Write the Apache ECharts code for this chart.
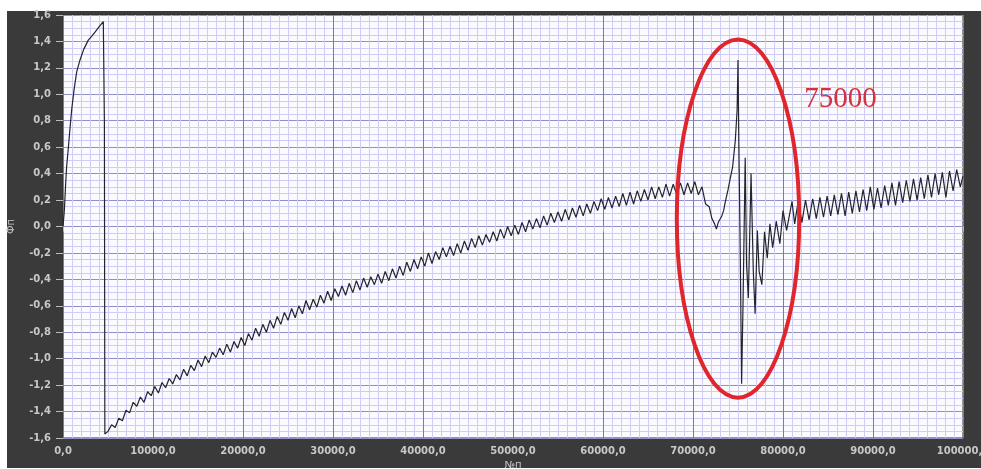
<!DOCTYPE html>
<html><head><meta charset="utf-8">
<script src="https://cdn.jsdelivr.net/npm/echarts@6/dist/echarts.min.js"></script>
<style>
html,body{margin:0;padding:0;background:#fff;}
#panel{position:absolute;left:7px;top:11px;width:974px;height:457px;background:#3a3a3a;}
#chart{position:absolute;left:0;top:0;width:981px;height:469px;}
</style></head><body>
<div id="panel"></div><div id="chart"></div>
<script>
// ---- data (x = point number, y = value) ----
const riseSegment = [
  [0,0.00],[150,0.12],[300,0.33],[400,0.45],[600,0.60],[800,0.76],[960,0.88],[1220,1.03],
  [1520,1.17],[1890,1.26],[2300,1.34],[2810,1.41],[3200,1.44],[3560,1.47],[4000,1.51],
  [4480,1.55],[4560,1.56],[4600,0.78],[4650,-1.57]
];
const trendSegment = [
  [5000,-1.55],[5400,-1.50],[5800,-1.52],[6200,-1.45],[6600,-1.47],[7000,-1.39],[7400,-1.41],
  [7800,-1.33],[8200,-1.36],[8600,-1.29],[9000,-1.33],[9400,-1.25],[9800,-1.28],[10200,-1.21],
  [10600,-1.26],[11000,-1.18],[11400,-1.22],[11800,-1.15],[12200,-1.19],[12600,-1.12],[13000,-1.16],
  [13400,-1.08],[13800,-1.13],[14200,-1.05],[14600,-1.09],[15000,-1.01],[15400,-1.06],[15800,-0.98],
  [16200,-1.03],[16600,-0.95],[17000,-0.99],[17400,-0.92],[17800,-0.97],[18200,-0.89],[18600,-0.95],
  [19000,-0.87],[19400,-0.92],[19800,-0.84],[20200,-0.90],[20600,-0.81],[21000,-0.86],[21400,-0.77],
  [21800,-0.83],[22200,-0.74],[22600,-0.80],[23000,-0.71],[23400,-0.77],[23800,-0.68],[24200,-0.74],
  [24600,-0.65],[25000,-0.71],[25400,-0.62],[25800,-0.69],[26200,-0.60],[26600,-0.66],[27000,-0.56],
  [27400,-0.63],[27800,-0.55],[28200,-0.61],[28600,-0.52],[29000,-0.58],[29400,-0.49],[29800,-0.56],
  [30200,-0.47],[30600,-0.53],[31000,-0.45],[31400,-0.52],[31800,-0.43],[32200,-0.50],[32600,-0.41],
  [33000,-0.48],[33400,-0.39],[33800,-0.46],[34200,-0.38],[34600,-0.44],[35000,-0.36],[35400,-0.43],
  [35800,-0.34],[36200,-0.41],[36600,-0.32],[37000,-0.39],[37400,-0.30],[37800,-0.37],[38200,-0.27],
  [38600,-0.34],[39000,-0.25],[39400,-0.32],[39800,-0.23],[40200,-0.30],[40600,-0.20],[41000,-0.28],
  [41400,-0.19],[41800,-0.25],[42200,-0.16],[42600,-0.23],[43000,-0.15],[43400,-0.22],[43800,-0.13],
  [44200,-0.20],[44600,-0.11],[45000,-0.18],[45400,-0.09],[45800,-0.16],[46200,-0.07],[46600,-0.14],
  [47000,-0.06],[47400,-0.12],[47800,-0.04],[48200,-0.11],[48600,-0.02],[49000,-0.09],[49400,0.00],
  [49800,-0.07],[50200,0.01],[50600,-0.06],[51000,0.03],[51400,-0.04],[51800,0.05],[52200,-0.02],
  [52600,0.06],[53000,-0.01],[53400,0.08],[53800,0.01],[54200,0.10],[54600,0.03],[55000,0.11],
  [55400,0.04],[55800,0.13],[56200,0.05],[56600,0.14],[57000,0.07],[57400,0.16],[57800,0.08],
  [58200,0.17],[58600,0.10],[59000,0.19],[59400,0.12],[59800,0.21],[60200,0.13],[60600,0.22],
  [61000,0.14],[61400,0.23],[61800,0.15],[62200,0.25],[62600,0.16],[63000,0.26],[63400,0.17],
  [63800,0.27],[64200,0.19],[64600,0.28],[65000,0.20],[65400,0.30],[65800,0.21],[66200,0.30],
  [66600,0.22],[67000,0.32],[67400,0.23],[67800,0.32],[68200,0.24],[68600,0.33],[69000,0.24],
  [69400,0.33],[69800,0.25],[70200,0.34],[70600,0.24]
];
const eventSegment = [
  [71000,0.30],[71400,0.17],[71800,0.15],[72100,0.06],[72400,0.02],[72600,-0.02],[72800,0.03],
  [73000,0.04],[73200,0.08],[73400,0.12],[73600,0.19],[73900,0.28],[74100,0.35],[74400,0.45],
  [74700,0.65],[74900,0.88],[75000,1.26],[75100,0.60],[75250,-0.20],[75400,-1.19],[75550,-0.62],
  [75800,0.52],[75950,-0.29],[76150,-0.54],[76450,0.40],[76700,-0.34],[76900,-0.66],[77150,-0.03],
  [77350,-0.34],[77650,-0.44],[77950,-0.04],[78250,-0.24],[78550,0.02],[78850,-0.16],[79250,0.04],
  [79650,-0.13],[80000,0.12],[80400,-0.03],[81000,0.19],[81300,0.02],[81700,0.20]
];
const tailSegment = [
  [82100,0.03],[82500,0.20],[82900,0.05],[83300,0.21],[83700,0.06],[84100,0.22],[84500,0.07],
  [84900,0.23],[85300,0.08],[85700,0.24],[86100,0.09],[86500,0.25],[86900,0.08],[87300,0.26],
  [87700,0.10],[88100,0.27],[88500,0.11],[88900,0.28],[89300,0.12],[89700,0.30],[90100,0.13],
  [90500,0.29],[90900,0.14],[91300,0.31],[91700,0.16],[92100,0.33],[92500,0.16],[92900,0.34],
  [93300,0.18],[93700,0.35],[94100,0.19],[94500,0.36],[94900,0.20],[95300,0.37],[95700,0.21],
  [96100,0.39],[96500,0.22],[96900,0.40],[97300,0.24],[97700,0.41],[98100,0.22],[98500,0.42],
  [98900,0.27],[99300,0.43],[99700,0.30],[100000,0.38]
];
// axis ranges / ticks
const xRange = [0, 100000], xStep = 10000;
const yRange = [-1.6, 1.6], yStep = 0.2;
const xName = '№п', yName = 'Фп';
// annotation (data units)
const markerCenter = [75000, 0.06];
const markerRadii = [6800, 1.355];
const markerText = '75000';
const markerTextAt = [86400, 0.96];

const series = riseSegment.concat(trendSegment, eventSegment, tailSegment);
const fmt = v => v.toFixed(1).replace('.', ',');

const chart = echarts.init(document.getElementById('chart'), null, {renderer: 'canvas'});
chart.setOption({
  animation: false,
  grid: {left: 63, right: 18, top: 15, bottom: 31, show: true, containLabel: false,
         outerBoundsMode: 'none',
         backgroundColor: '#fbfbff', borderColor: '#2e2e2e', borderWidth: 1},
  xAxis: {
    type: 'value', min: xRange[0], max: xRange[1], interval: xStep,
    name: xName, nameLocation: 'middle', nameGap: 21,
    nameTextStyle: {color: '#c8c8c8', fontSize: 10, fontFamily: 'DejaVu Sans'},
    axisLine: {show: false},
    axisTick: {show: true, length: 5, lineStyle: {color: '#bdbdbd'}},
    axisLabel: {formatter: fmt, color: '#c8c8c8', fontSize: 10, fontWeight: 'bold',
                fontFamily: 'DejaVu Sans', margin: 8, hideOverlap: false},
    splitLine: {show: true, lineStyle: {color: '#7272e6', width: 1}},
    minorTick: {show: false, splitNumber: 10},
    minorSplitLine: {show: true, lineStyle: {color: '#cdcdf5', width: 1}}
  },
  yAxis: {
    type: 'value', min: yRange[0], max: yRange[1], interval: yStep,
    name: yName, nameLocation: 'middle', nameGap: 47, nameRotate: 90,
    nameTextStyle: {color: '#c8c8c8', fontSize: 10, fontFamily: 'DejaVu Sans'},
    axisLine: {show: false},
    axisTick: {show: true, length: 7, lineStyle: {color: '#bdbdbd'}},
    axisLabel: {formatter: fmt, color: '#c8c8c8', fontSize: 10, fontWeight: 'bold',
                fontFamily: 'DejaVu Sans', margin: 12},
    splitLine: {show: true, lineStyle: {color: '#9090c4', width: 1}},
    minorTick: {show: false, splitNumber: 4},
    minorSplitLine: {show: true, lineStyle: {color: '#cdcdf5', width: 1}}
  },
  series: [{
    type: 'line', data: series, showSymbol: false, symbol: 'none',
    sampling: null, clip: true,
    lineStyle: {color: '#24242e', width: 1.2}
  }]
});

const c = chart.convertToPixel({gridIndex: 0}, markerCenter);
const e1 = chart.convertToPixel({gridIndex: 0}, [markerCenter[0] + markerRadii[0], markerCenter[1] + markerRadii[1]]);
const tp = chart.convertToPixel({gridIndex: 0}, markerTextAt);
chart.setOption({
  graphic: [
    {type: 'ellipse', shape: {cx: c[0], cy: c[1], rx: Math.abs(e1[0] - c[0]), ry: Math.abs(c[1] - e1[1])},
     style: {fill: 'none', stroke: '#e0262c', lineWidth: 4}, z: 100},
    {type: 'text', x: tp[0], y: tp[1], z: 100,
     style: {text: markerText, fill: '#d6303a', font: '29px "Liberation Serif"',
             textAlign: 'center', textVerticalAlign: 'middle'}}
  ]
});
</script>
</body></html>
